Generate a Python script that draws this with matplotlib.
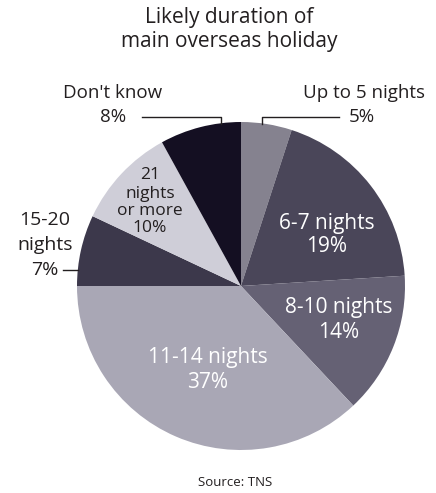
import matplotlib
matplotlib.use("Agg")
import matplotlib.pyplot as plt

plt.rcParams['font.family'] = ['Open Sans', 'DejaVu Sans']

categories = ["Up to 5 nights", "6-7 nights", "8-10 nights", "11-14 nights",
              "15-20 nights", "21 nights or more", "Don't know"]
shares = [5, 19, 14, 37, 7, 10, 8]
colors = ["#85828f", "#4a4659", "#656174", "#a9a7b5", "#3c384b", "#cfced8", "#140f22"]

W, H = 436, 493
fig = plt.figure(figsize=(W / 100, H / 100), dpi=100)
ax = fig.add_axes([0, 0, 1, 1])

cx, cy, r = 241, H - 286, 164
ax.pie(shares, colors=colors, startangle=90, counterclock=False,
       radius=r, center=(cx, cy), frame=True,
       wedgeprops=dict(linewidth=0))
ax.set_xlim(0, W)
ax.set_ylim(0, H)
ax.set_aspect('equal')
ax.axis('off')

dark = "#231f20"


def lines(x, tops, texts, size, color, ha='center'):
    """Place one text per line at the given pixel rows (measured from the top)."""
    for py, t in zip(tops, texts):
        ax.text(x, H - py, t, ha=ha, va='center', fontsize=size, color=color)


# title
lines(229, [18, 42], ["Likely duration of", "main overseas holiday"], 15, dark)

# outside labels with leader lines
lines(113, [93, 117], ["Don't know", "8%"], 13.5, dark)
ax.plot([142, 221, 221], [H - 117, H - 117, H - 124], color=dark, lw=1)

lines(425, [93], ["Up to 5 nights"], 13.5, dark, ha='right')
lines(362, [117], ["5%"], 13.5, dark)
ax.plot([339, 262, 262], [H - 117, H - 117, H - 124], color=dark, lw=1)

lines(45, [220, 245, 270], ["15-20", "nights", "7%"], 14, dark)
ax.plot([63, 78], [H - 270, H - 270], color=dark, lw=1)

# in-slice labels
lines(327, [223, 247], ["6-7 nights", "19%"], 15, 'white')
lines(339, [307, 332], ["8-10 nights", "14%"], 15, 'white')
lines(208, [358, 383], ["11-14 nights", "37%"], 15, 'white')
lines(150, [175, 194, 211, 228], ["21", "nights", "or more", "10%"], 12.5, dark)

lines(235, [482], ["Source: TNS"], 9.5, dark)

fig.savefig("out.png", dpi=100)
